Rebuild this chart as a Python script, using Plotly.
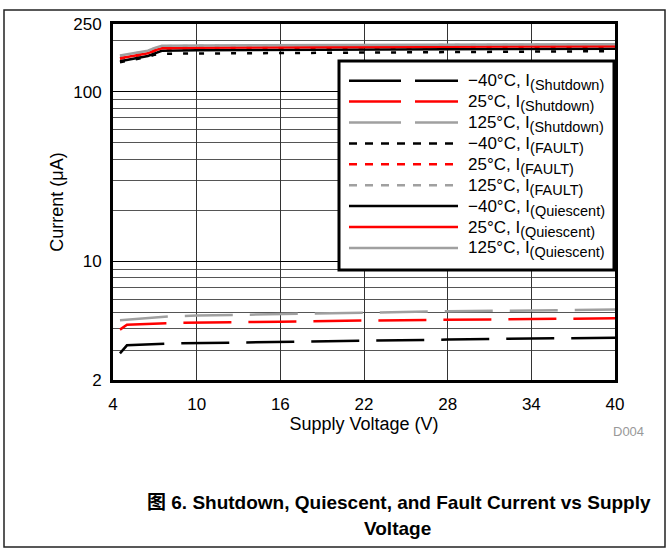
import plotly.graph_objects as go

# ---------------- data ----------------
v_top = [4.5, 5.5, 6.5, 7.0, 7.5, 10, 16, 22, 28, 34, 40]
q_m40 = [151, 156, 162, 168, 174, 175, 176, 177, 177.5, 178, 179]
q_25 = [157, 162, 168, 175, 180, 181, 182, 183, 184, 184.5, 185]
q_125 = [163, 168, 174, 181, 186, 187, 187.5, 188, 189, 189.5, 190]
f_m40 = [149, 154, 160, 165, 167, 167.5, 168.5, 169.5, 170.5, 171.5, 173]
f_25 = [156, 161, 167, 174, 179, 180, 181, 182, 183, 183.5, 184]
f_125 = [162, 167, 173, 180, 185, 186, 186.5, 187, 188, 188.5, 189]

v_sd = [4.5, 5.0, 8, 10, 16, 22, 28, 34, 40]
s_m40 = [2.87, 3.20, 3.28, 3.30, 3.34, 3.40, 3.46, 3.51, 3.55]
s_25 = [3.96, 4.23, 4.33, 4.36, 4.41, 4.48, 4.54, 4.58, 4.62]
s_125 = [4.49, 4.53, 4.74, 4.79, 4.86, 4.98, 5.08, 5.13, 5.20]

x_ticks = [4, 10, 16, 22, 28, 34, 40]
y_ticks = [2, 10, 100, 250]
y_minor = [3, 4, 5, 6, 7, 8, 9, 20, 30, 40, 50, 60, 70, 80, 90, 200]

legend_temps = ["\u221240\u00b0C", "25\u00b0C", "125\u00b0C"] * 3
legend_kinds = ["(Shutdown)"] * 3 + ["(FAULT)"] * 3 + ["(Quiescent)"] * 3

BLACK, RED, GREY = "#000000", "#ff0000", "#a0a0a0"
SD_DASH, F_DASH = "48px,17px", "5px,11px"
LEG_SD_DASH, LEG_F_DASH = "52px,14px", "8px,8px"

series = [
    (v_sd, s_m40, BLACK, SD_DASH, LEG_SD_DASH),
    (v_sd, s_25, RED, SD_DASH, LEG_SD_DASH),
    (v_sd, s_125, GREY, SD_DASH, LEG_SD_DASH),
    (v_top, f_m40, BLACK, F_DASH, LEG_F_DASH),
    (v_top, f_25, RED, F_DASH, LEG_F_DASH),
    (v_top, f_125, GREY, F_DASH, LEG_F_DASH),
    (v_top, q_m40, BLACK, "solid", "solid"),
    (v_top, q_25, RED, "solid", "solid"),
    (v_top, q_125, GREY, "solid", "solid"),
]

FONT = "Liberation Sans, Arial, Noto Sans CJK SC, sans-serif"

# plot-area geometry (pixels)
W_FIG, H_FIG = 669, 550
L, T, PW, PH = 113, 24, 502, 356


def xp(px):
    return (px - L) / PW


def yp(py):
    return (T + PH - py) / PH


def label(temp, kind):
    return (temp + ", I<sub><span style='font-size:14.5px'>" + kind +
            "</span></sub>")


fig = go.Figure()
for (xs, ys, col, dash, _), t, k in zip(series, legend_temps, legend_kinds):
    fig.add_trace(go.Scatter(
        x=xs, y=ys, mode="lines", name=t + ", I" + k, showlegend=False,
        line=dict(color=col, width=2.5, dash=dash), hoverinfo="skip",
    ))

shapes = []
annotations = []

# custom legend (long line samples as in the reference)
shapes.append(dict(type="rect", xref="paper", yref="paper",
                   x0=xp(339), x1=xp(614), y0=yp(270), y1=yp(61),
                   line=dict(color="black", width=3), fillcolor="white",
                   layer="above"))
for i, ((_, _, col, _, ldash), t, k) in enumerate(zip(series, legend_temps, legend_kinds)):
    cy = 80.7 + i * 20.9
    shapes.append(dict(type="line", xref="paper", yref="paper",
                       x0=xp(349), x1=xp(458), y0=yp(cy), y1=yp(cy),
                       line=dict(color=col, width=2.5, dash=ldash),
                       layer="above"))
    annotations.append(dict(xref="paper", yref="paper", x=xp(466), y=yp(cy + 1.5),
                            text=label(t, k), showarrow=False, xanchor="left",
                            yanchor="middle",
                            font=dict(family=FONT, size=17, color="black")))

# outer frame
shapes.append(dict(type="rect", xref="paper", yref="paper",
                   x0=xp(4), x1=xp(665), y0=yp(547), y1=yp(10),
                   line=dict(color="#222", width=1.5), layer="above"))

annotations.append(dict(xref="paper", yref="paper", x=xp(628), y=yp(432),
                        text="D004", showarrow=False, xanchor="center",
                        yanchor="middle",
                        font=dict(family=FONT, size=13, color="#999999")))
annotations.append(dict(xref="paper", yref="paper", x=xp(399), y=yp(503),
                        text="<b>\u56fe 6. Shutdown, Quiescent, and Fault Current vs Supply</b>",
                        showarrow=False, xanchor="center", yanchor="middle",
                        font=dict(family=FONT, size=19, color="black")))
annotations.append(dict(xref="paper", yref="paper", x=xp(397), y=yp(528),
                        text="<b>Voltage</b>",
                        showarrow=False, xanchor="center", yanchor="middle",
                        font=dict(family=FONT, size=19, color="black")))

fig.update_layout(
    width=W_FIG, height=H_FIG,
    margin=dict(l=L, r=W_FIG - L - PW, t=T, b=H_FIG - T - PH, autoexpand=False),
    paper_bgcolor="white", plot_bgcolor="white",
    font=dict(family=FONT, size=17, color="black"),
    shapes=shapes, annotations=annotations,
    xaxis=dict(
        range=[4, 40], tickvals=x_ticks, ticktext=[str(t) for t in x_ticks],
        showgrid=True, gridcolor="#333333", gridwidth=1, zeroline=False,
        showline=True, linecolor="black", linewidth=3, mirror=True,
        ticks="outside", ticklen=7, tickcolor="rgba(0,0,0,0)",
        tickfont=dict(family=FONT, size=17),
        title=dict(text="Supply Voltage (V)", font=dict(family=FONT, size=18),
                   standoff=0),
    ),
    yaxis=dict(
        type="log", range=[0.30103, 2.39794],
        tickvals=y_ticks, ticktext=[str(t) for t in y_ticks],
        showgrid=True, gridcolor="black", gridwidth=1, zeroline=False,
        minor=dict(tickvals=y_minor, showgrid=True, gridcolor="#555555",
                   gridwidth=1, ticks=""),
        showline=True, linecolor="black", linewidth=3, mirror=True,
        ticks="outside", ticklen=5, tickcolor="rgba(0,0,0,0)",
        tickfont=dict(family=FONT, size=17),
        title=dict(text="Current (\u03bcA)", font=dict(family=FONT, size=18),
                   standoff=5),
    ),
)

fig.write_html("out.html", config={"displayModeBar": False},
               post_script="document.body.style.margin='0';")
